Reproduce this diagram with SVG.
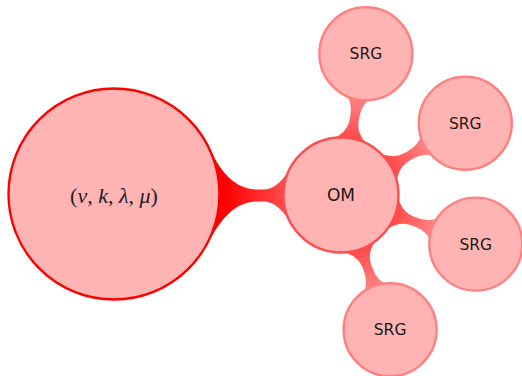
<svg xmlns="http://www.w3.org/2000/svg" width="522" height="376" viewBox="0 0 522 376">
<style>
.root{fill:#ffb3b3;stroke:#ff0000;stroke-width:2.4}
.om{fill:#ffb3b3;stroke:#ff4d4d;stroke-width:2.4}
.srg{fill:#ffb3b3;stroke:#ff8080;stroke-width:2.4}
.sans{font-family:"DejaVu Sans","Liberation Sans",sans-serif;fill:#1a1a1a;text-anchor:middle}
.math{font-family:"Liberation Serif",serif;font-size:22px;fill:#222;text-anchor:middle}
</style>
<defs>
<linearGradient id="gMain" gradientUnits="userSpaceOnUse" x1="225" y1="0" x2="285" y2="0">
<stop offset="0" stop-color="#ff0000"/><stop offset="1" stop-color="#ff4d4d"/>
</linearGradient>
<linearGradient id="gChild" gradientUnits="userSpaceOnUse" x1="60" y1="0" x2="96" y2="0">
<stop offset="0" stop-color="#ff4d4d"/><stop offset="1" stop-color="#ff8080"/>
</linearGradient>
<path id="childBar" d="M56,-15 C62,-8 68,-4.5 77,-4.5 C86,-4.5 93,-6 97.5,-10.5 L97.5,10.5 C93,6 86,4.5 77,4.5 C68,4.5 62,8 56,15 Z"/>
</defs>
<g id="connectors">
<path d="M209.5,148 C216,162 230,189.5 257,189.5 L263,189.5 C272,189.5 280,184 287.8,172 L288.2,219 C280,207 272,201.5 263,201.5 L257,201.5 C230,201.5 216,229 208,243 Z" fill="url(#gMain)"/>
<use href="#childBar" fill="url(#gChild)" transform="translate(341,195) rotate(-80)"/>
<use href="#childBar" fill="url(#gChild)" transform="translate(341,195) rotate(-30)"/>
<use href="#childBar" fill="url(#gChild)" transform="translate(341,195) rotate(20)"/>
<use href="#childBar" fill="url(#gChild)" transform="translate(341,195) rotate(70)"/>
</g>
<g id="root">
<circle class="root" cx="114" cy="194" r="105.5"/>
<text class="math" x="114" y="203">(<tspan font-style="italic">v</tspan>, <tspan font-style="italic">k</tspan>, <tspan font-style="italic">λ</tspan>, <tspan font-style="italic">μ</tspan>)</text>
</g>
<g id="om">
<circle class="om" cx="341" cy="195" r="57.5"/>
<text class="sans" x="341" y="201" font-size="17">OM</text>
</g>
<g id="srg1">
<circle class="srg" cx="365.9" cy="53.7" r="46.5"/>
<text class="sans" x="365.9" y="59.2" font-size="15.5">SRG</text>
</g>
<g id="srg2">
<circle class="srg" cx="465.3" cy="123.3" r="46.5"/>
<text class="sans" x="465.3" y="128.8" font-size="15.5">SRG</text>
</g>
<g id="srg3">
<circle class="srg" cx="475.8" cy="244.1" r="46.5"/>
<text class="sans" x="475.8" y="249.6" font-size="15.5">SRG</text>
</g>
<g id="srg4">
<circle class="srg" cx="390.1" cy="329.8" r="46.5"/>
<text class="sans" x="390.1" y="335.3" font-size="15.5">SRG</text>
</g>
</svg>
